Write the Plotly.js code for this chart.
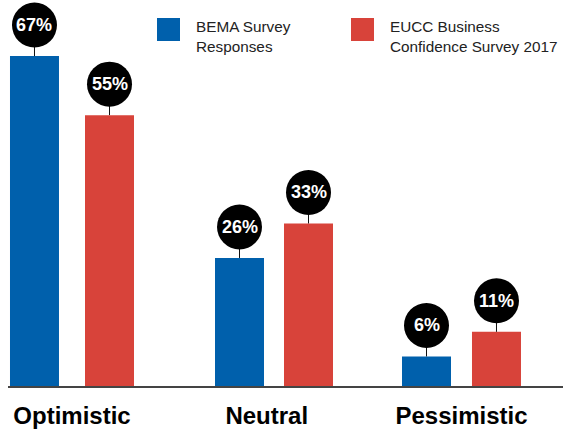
<!DOCTYPE html>
<html><head><meta charset="utf-8">
<script src="https://cdn.plot.ly/plotly-3.0.1.min.js"></script>
<style>html,body{margin:0;padding:0;background:#fff}#chart{width:563px;height:432px}</style>
</head><body><div id="chart"></div>
<script>
// ---- data ----
const categories = ['Optimistic', 'Neutral', 'Pessimistic'];
const seriesNames = ['BEMA Survey<br>Responses', 'EUCC Business<br>Confidence Survey 2017'];
const bemaValues = [67, 26, 6];
const euccValues = [55, 33, 11];

// ---- style / layout constants ----
const W = 563, H = 432;
const M = {l: 8, r: 0, t: 0, b: 46};
const plotW = W - M.l - M.r, plotH = H - M.t - M.b;
const FONT = '"Liberation Sans", Arial, Helvetica, sans-serif';
const BLUE = '#0060AC', RED = '#D8433A';
const barWidth = 0.2516;
const blueOffsets = [-0.3184, -0.2657, -0.3055];
const redOffsets = [0.0668, 0.0886, 0.0539];
const CIRCLE_D = 45, CIRCLE_LIFT = 31;

const idx = categories.map((c, i) => i);

const traces = [
  {type: 'bar', x: idx, y: bemaValues, name: seriesNames[0], width: barWidth, offset: blueOffsets,
   marker: {color: BLUE, line: {width: 0}}, hoverinfo: 'skip'},
  {type: 'bar', x: idx, y: euccValues, name: seriesNames[1], width: barWidth, offset: redOffsets,
   marker: {color: RED, line: {width: 0}}, hoverinfo: 'skip'}
];

const shapes = [];
const annotations = [];
[[bemaValues, blueOffsets], [euccValues, redOffsets]].forEach(([vals, offs]) => {
  vals.forEach((v, i) => {
    const cx = i + offs[i] + barWidth / 2;
    shapes.push({type: 'line', xref: 'x', yref: 'y', xsizemode: 'pixel', ysizemode: 'pixel',
      xanchor: cx, yanchor: v, x0: 0, x1: 0, y0: 0, y1: CIRCLE_LIFT - CIRCLE_D / 2 + 2,
      line: {color: '#111', width: 1}});
    shapes.push({type: 'circle', xref: 'x', yref: 'y', xsizemode: 'pixel', ysizemode: 'pixel',
      xanchor: cx, yanchor: v, x0: -CIRCLE_D / 2, x1: CIRCLE_D / 2,
      y0: CIRCLE_LIFT - CIRCLE_D / 2, y1: CIRCLE_LIFT + CIRCLE_D / 2,
      fillcolor: '#000', line: {width: 0}});
    annotations.push({xref: 'x', yref: 'y', x: cx, y: v, yshift: CIRCLE_LIFT, showarrow: false,
      xanchor: 'center', yanchor: 'middle', text: '<b>' + v + '%</b>',
      font: {family: FONT, size: 18, color: '#fff'}});
  });
});

// manual legend
const px = p => (p - M.l) / plotW;
const py = p => (H - M.b - p) / plotH;
const legendItems = [
  {color: BLUE, name: seriesNames[0], sx: 157, tx: 194},
  {color: RED, name: seriesNames[1], sx: 351, tx: 388}
];
legendItems.forEach(it => {
  shapes.push({type: 'rect', xref: 'paper', yref: 'paper', x0: px(it.sx), x1: px(it.sx + 23),
    y0: py(41), y1: py(18), fillcolor: it.color, line: {width: 0}});
  annotations.push({xref: 'paper', yref: 'paper', x: px(it.tx), y: py(36), showarrow: false,
    xanchor: 'left', yanchor: 'middle', align: 'left', text: it.name,
    font: {family: FONT, size: 15.3, color: '#222'}});
});

const layout = {
  width: W, height: H, margin: M,
  paper_bgcolor: '#fff', plot_bgcolor: '#fff',
  showlegend: false, barmode: 'group',
  font: {family: FONT},
  xaxis: {range: [-0.3286, 2.5212], tickvals: idx, ticktext: categories,
    tickfont: {family: FONT, size: 24, color: '#000', weight: 'bold'},
    ticks: '', ticklabelstandoff: 8, showline: true, linecolor: '#444', linewidth: 1.5,
    showgrid: false, zeroline: false, fixedrange: true},
  yaxis: {range: [0, 78.38], visible: false, showgrid: false, zeroline: false, fixedrange: true},
  shapes: shapes, annotations: annotations
};

Plotly.newPlot('chart', traces, layout, {staticPlot: true, displayModeBar: false});
</script></body></html>
